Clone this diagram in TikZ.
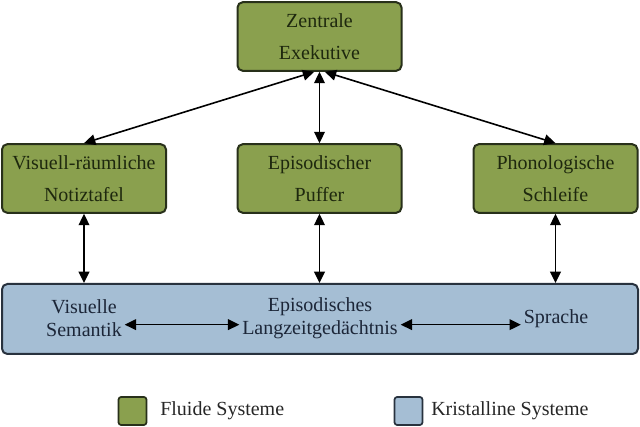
\documentclass[tikz,border=0pt]{standalone}
\usepackage{fontspec}
\setmainfont{Liberation Serif}
\usetikzlibrary{arrows.meta}
\definecolor{fgreen}{RGB}{138,160,78}
\definecolor{fgreenline}{RGB}{40,48,26}
\definecolor{kblue}{RGB}{165,190,212}
\definecolor{kblueline}{RGB}{40,50,62}
\definecolor{gtext}{RGB}{30,40,14}
\definecolor{btext}{RGB}{28,38,56}
\tikzset{
  fbox/.style={draw=fgreenline, fill=fgreen, line width=1.5pt, rounded corners=4pt,
    minimum width=123pt, minimum height=51.5pt, align=center, text=gtext,
    font=\fontsize{15}{24.5}\selectfont, inner sep=0pt},
  kbox/.style={draw=kblueline, fill=kblue, line width=1.5pt, rounded corners=4pt,
    minimum width=477pt, minimum height=52.5pt, inner sep=0pt},
  itext/.style={align=center, text=btext, font=\fontsize{15}{17}\selectfont, inner sep=2pt},
  arr/.style={{Triangle[length=8.5pt,width=8pt]}-{Triangle[length=8.5pt,width=8pt]}, line width=1.2pt, black},
  legsq/.style={rounded corners=2pt, line width=1.3pt, minimum width=21pt, minimum height=21pt, inner sep=0pt},
  legtext/.style={anchor=west, font=\fontsize{15}{17}\selectfont, text=black!85, inner sep=0pt}
}
\begin{document}
\begin{tikzpicture}[x=0.75pt,y=-0.75pt]
\useasboundingbox (0,0) rectangle (640,427);
\node[fbox] (ze) at (319.5,36.5) {Zentrale\\Exekutive};
\node[fbox] (vr) at (84,178.5) {Visuell-räumliche\\Notiztafel};
\node[fbox] (pu) at (319.5,178.5) {Episodischer\\Puffer};
\node[fbox] (ph) at (555.5,178.5) {Phonologische\\Schleife};
\node[kbox] (lz) at (320,319) {};
\node[itext] (vs) at (84,318) {Visuelle\\Semantik};
\node[itext] (el) at (320,318) {Episodisches\\Langzeitgedächtnis};
\node[itext] (sp) at (556,319) {Sprache};
\draw[arr] ([xshift=-4pt]ze.south) -- (vr.north);
\draw[arr] (ze.south) -- (pu.north);
\draw[arr] ([xshift=4pt]ze.south) -- (ph.north);
\draw[arr] (vr.south) -- (vr.south |- lz.north);
\draw[arr] (pu.south) -- (pu.south |- lz.north);
\draw[arr] (ph.south) -- (ph.south |- lz.north);
\draw[arr] ([yshift=-5pt]vs.east) -- ([yshift=-5pt]vs.east -| el.west);
\draw[arr] ([yshift=-5pt]el.east) -- ([yshift=-5pt]el.east -| sp.west);
\node[legsq, draw=fgreenline, fill=fgreen] (lg) at (132.5,411) {};
\node[legtext] (lgt) at (160,411) {Fluide Systeme};
\node[legsq, draw=kblueline, fill=kblue] (lb) at (408.5,411) {};
\node[legtext] (lbt) at (431,411) {Kristalline Systeme};
\end{tikzpicture}
\end{document}
